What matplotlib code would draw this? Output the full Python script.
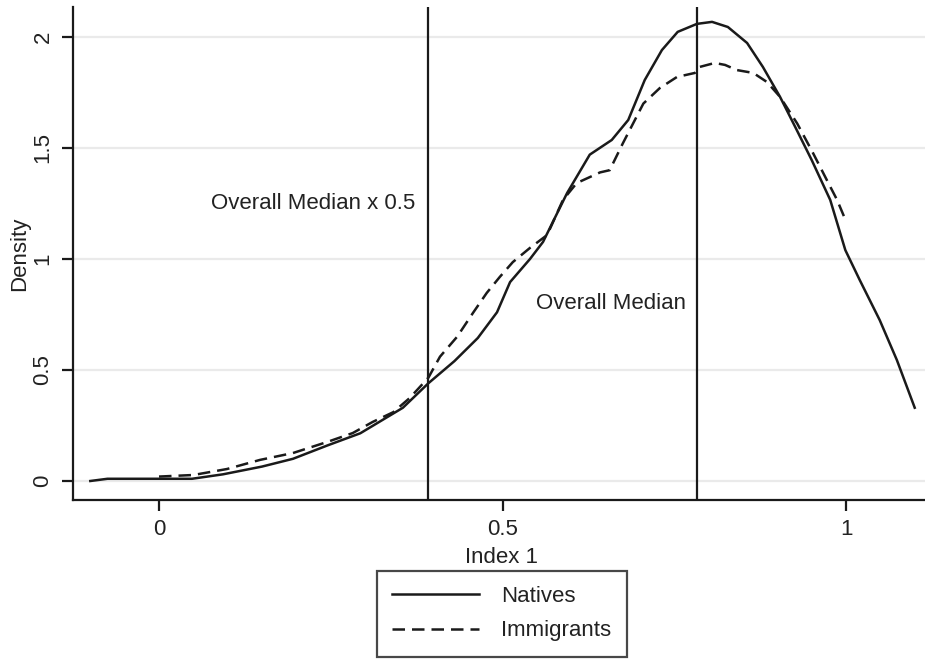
import matplotlib
matplotlib.use('Agg')
import matplotlib.pyplot as plt

plt.rcParams['font.family'] = ['Liberation Sans', 'DejaVu Sans']

# kernel density estimates
natives_x = [-0.100, -0.075, 0.000, 0.048, 0.093, 0.150, 0.195, 0.245, 0.293, 0.355, 0.392,
             0.430, 0.464, 0.492, 0.511, 0.540, 0.559, 0.594, 0.627, 0.659, 0.683,
             0.707, 0.732, 0.755, 0.783, 0.805, 0.828, 0.856, 0.879, 0.904, 0.926,
             0.950, 0.977, 0.999, 1.020, 1.049, 1.074, 1.100]
natives_y = [0.00, 0.01, 0.01, 0.01, 0.03, 0.065, 0.10, 0.16, 0.215, 0.33, 0.44,
             0.54, 0.644, 0.76, 0.896, 1.00, 1.077, 1.297, 1.47, 1.536, 1.626,
             1.806, 1.941, 2.023, 2.059, 2.068, 2.045, 1.973, 1.865, 1.73, 1.595,
             1.446, 1.266, 1.04, 0.905, 0.725, 0.545, 0.33]

immigrants_x = [0.000, 0.050, 0.099, 0.147, 0.195, 0.245, 0.282, 0.311, 0.341, 0.365, 0.392,
                0.409, 0.434, 0.457, 0.477, 0.496, 0.515, 0.540, 0.565, 0.588, 0.608,
                0.642, 0.656, 0.675, 0.690, 0.705, 0.729, 0.754, 0.780, 0.787, 0.809,
                0.824, 0.841, 0.865, 0.885, 0.904, 0.929, 0.952, 0.972, 0.987, 1.000]
immigrants_y = [0.02, 0.027, 0.054, 0.095, 0.126, 0.176, 0.216, 0.266, 0.31, 0.374, 0.465,
                0.56, 0.65, 0.757, 0.847, 0.919, 0.986, 1.05, 1.108, 1.266, 1.342,
                1.39, 1.40, 1.52, 1.61, 1.70, 1.77, 1.82, 1.838, 1.865, 1.883,
                1.874, 1.851, 1.838, 1.797, 1.73, 1.61, 1.477, 1.356, 1.266, 1.17]

overall_median = 0.783
half_median = overall_median * 0.5

x_ticks = [0, 0.5, 1]
x_tick_labels = ['0', '0.5', '1']
y_ticks = [0, 0.5, 1, 1.5, 2]
y_tick_labels = ['0', '0.5', '1', '1.5', '2']

FS = 16

fig = plt.figure(figsize=(9.25, 6.6), dpi=100)
ax = fig.add_axes([73 / 925, 1 - 500 / 660, 858 / 925, 493 / 660])

for yv in y_ticks:
    ax.axhline(yv, color='#eaeaea', lw=1.6, zorder=0)

ax.plot(natives_x, natives_y, color='#1a1a1a', lw=1.8, label='Natives')
ax.plot(immigrants_x, immigrants_y, color='#1a1a1a', lw=1.8, ls=(0, (5, 2.8)),
        label='Immigrants')

ax.axvline(half_median, color='#1a1a1a', lw=1.6)
ax.axvline(overall_median, color='#1a1a1a', lw=1.6)

ax.text(half_median - 0.018, 1.25, 'Overall Median x 0.5', ha='right', va='center',
        fontsize=FS, color='#222222')
ax.text(overall_median - 0.016, 0.80, 'Overall Median', ha='right', va='center',
        fontsize=FS, color='#222222')

ax.set_xlim(-0.1252, 1.1237)
ax.set_ylim(-0.0856, 2.135)
ax.set_xticks(x_ticks)
ax.set_xticklabels(x_tick_labels)
ax.set_yticks(y_ticks)
ax.set_yticklabels(y_tick_labels, rotation=90, va='center')

for side in ['top', 'right']:
    ax.spines[side].set_visible(False)
for side in ['left', 'bottom']:
    ax.spines[side].set_linewidth(1.6)
    ax.spines[side].set_color('#1a1a1a')

ax.tick_params(direction='out', length=8, width=1.6, labelsize=FS, color='#1a1a1a',
               labelcolor='#222222', pad=6)
ax.set_xlabel('Index 1', fontsize=FS, color='#222222', labelpad=5)
ax.set_ylabel('Density', fontsize=FS, color='#222222', labelpad=2)

leg = fig.legend(loc='lower center', bbox_to_anchor=(502 / 925, 3 / 660), fontsize=FS,
                 frameon=True, fancybox=False, handlelength=3.9, borderpad=0.7,
                 labelspacing=0.6, handletextpad=1.0, borderaxespad=0)
leg.get_frame().set_edgecolor('#1a1a1a')
leg.get_frame().set_linewidth(1.6)
for t in leg.get_texts():
    t.set_color('#222222')

fig.savefig('out.png', dpi=100)
